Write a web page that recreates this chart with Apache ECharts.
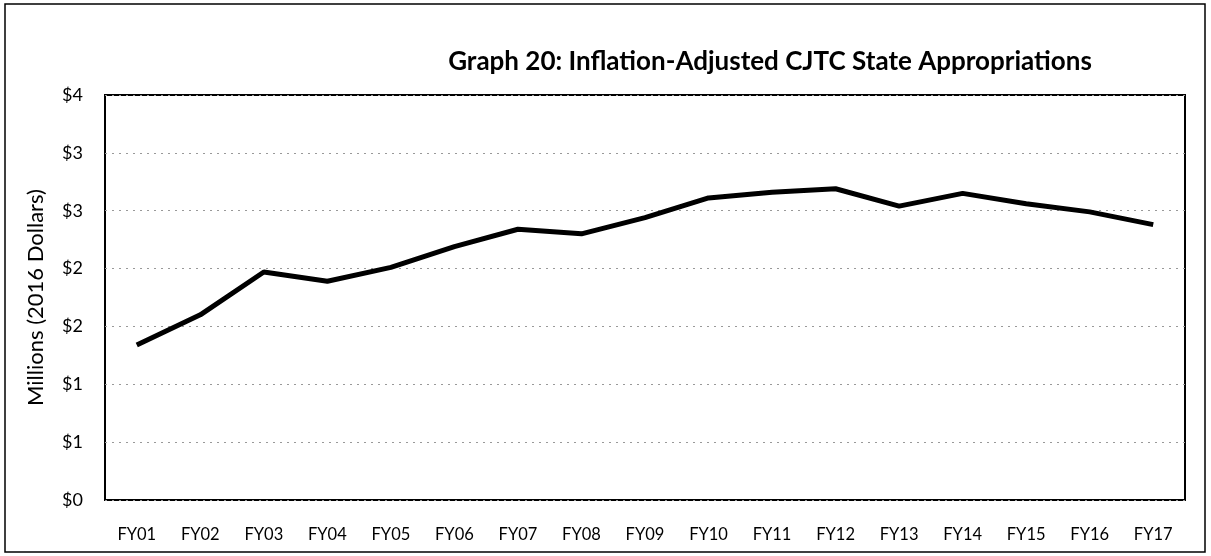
<!DOCTYPE html>
<html>
<head>
<meta charset="utf-8">
<script src="https://cdn.jsdelivr.net/npm/echarts@6/dist/echarts.min.js"></script>
<style>
  html, body { margin: 0; padding: 0; background: #fff; }
  #chart { width: 1211px; height: 556px; }
</style>
</head>
<body>
<div id="chart"></div>
<script>
// fiscal years on the x axis
var years = ['FY01', 'FY02', 'FY03', 'FY04', 'FY05', 'FY06', 'FY07', 'FY08', 'FY09',
  'FY10', 'FY11', 'FY12', 'FY13', 'FY14', 'FY15', 'FY16', 'FY17'];
// appropriations, millions of 2016 dollars
var appropriations = [1.34, 1.60, 1.97, 1.89, 2.01, 2.19, 2.34, 2.30, 2.44,
  2.61, 2.66, 2.69, 2.54, 2.65, 2.56, 2.49, 2.38];

var titleText = 'Graph 20: Inflation-Adjusted CJTC State Appropriations';
var yName = 'Millions (2016 Dollars)';

var myChart = echarts.init(document.getElementById('chart'));
var option = {
  animation: false,
  title: {
    text: titleText,
    left: 765,
    top: 44,
    textAlign: 'center',
    textStyle: { fontFamily: 'Lato', fontWeight: 'bold', fontSize: 26, color: '#000' }
  },
  grid: { left: 105, right: 26, top: 95, bottom: 56, show: true, borderColor: '#000', borderWidth: 2 },
  xAxis: {
    type: 'category',
    data: years,
    boundaryGap: true,
    axisLine: { show: false },
    axisTick: { show: false },
    axisLabel: { color: '#000', fontFamily: 'Lato', fontSize: 16.5, margin: 26 }
  },
  yAxis: {
    type: 'value',
    min: 0,
    max: 3.5,
    interval: 0.5,
    name: yName,
    nameLocation: 'middle',
    nameGap: 58,
    nameTextStyle: { color: '#000', fontFamily: 'Lato', fontSize: 22 },
    axisLine: { show: false },
    axisTick: { show: false },
    axisLabel: {
      color: '#000', fontFamily: 'Lato', fontSize: 18, margin: 22,
      formatter: function (v) { return '$' + Math.round(v); }
    },
    splitLine: { lineStyle: { color: '#999', type: [2, 5], width: 1 } }
  },
  series: [{
    type: 'line',
    data: appropriations,
    symbol: 'none',
    lineStyle: { color: '#000', width: 5 }
  }],
  graphic: [{
    type: 'rect',
    shape: { x: 5, y: 4, width: 1200, height: 548 },
    style: { fill: 'none', stroke: '#000', lineWidth: 1.5 }
  }]
};
myChart.setOption(option);
</script>
</body>
</html>
